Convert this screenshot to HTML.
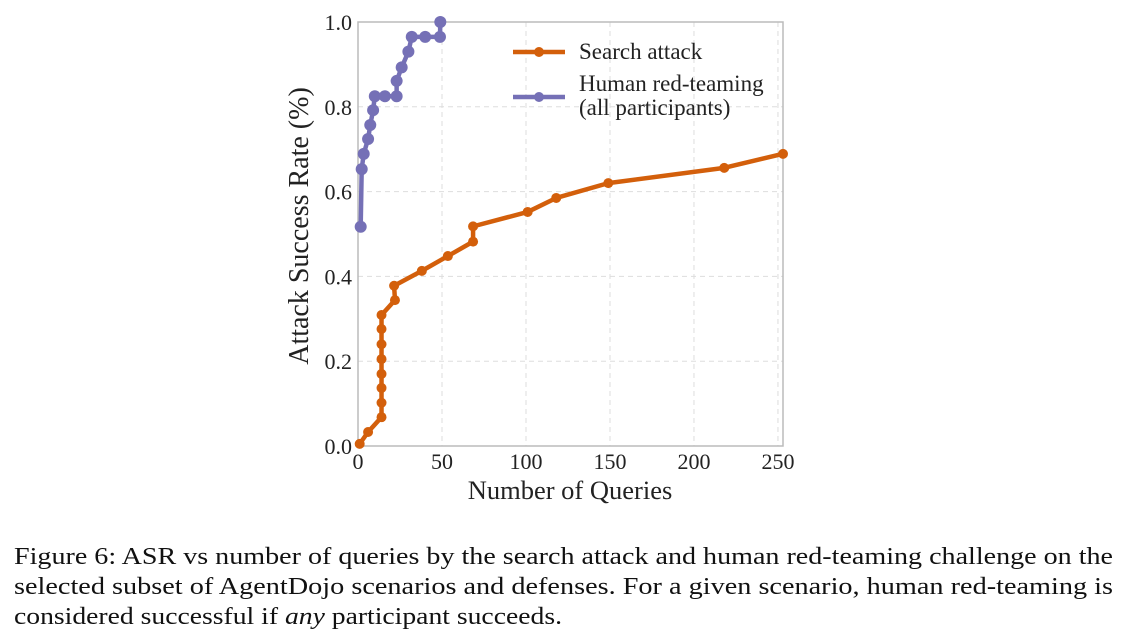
<!DOCTYPE html>
<html><head><meta charset="utf-8"><style>
body{margin:0;background:#fff;width:1129px;height:640px;overflow:hidden;font-family:"Liberation Serif",serif}
svg{position:absolute;left:0;top:0}
.cap{position:absolute;left:14px;top:542px;font-size:24px;line-height:30px;color:#111}
.cap span{display:block;white-space:nowrap;transform-origin:0 0;width:max-content}
</style></head><body>
<svg id="chart" width="1129" height="640" font-family="Liberation Serif, serif"></svg>
<div class="cap"><span data-w="1099">Figure 6: ASR vs number of queries by the search attack and human red-teaming challenge on the</span><span data-w="1099">selected subset of AgentDojo scenarios and defenses. For a given scenario, human red-teaming is</span><span data-w="548">considered successful if <i>any</i> participant succeeds.</span></div>
<script>
document.querySelectorAll('.cap span').forEach(s=>{const w=s.getBoundingClientRect().width;s.style.transform='scaleX('+(+s.dataset.w/w)+')';});
const searchX=[1,6,14,14,14,14,14,14,14,14,22,21.5,38,53.5,68.5,68.5,101,118,149,218,253];
const searchY=[0.005,0.033,0.068,0.102,0.137,0.17,0.205,0.24,0.276,0.309,0.344,0.378,0.413,0.448,0.482,0.518,0.552,0.585,0.62,0.656,0.689];
const humanX=[1.6,2.2,3.4,6,7.3,9,10,16,23,23,26,30,32,40,48.8,49];
const humanY=[0.517,0.653,0.689,0.724,0.757,0.792,0.825,0.825,0.825,0.861,0.893,0.93,0.965,0.965,0.965,1.0];
const xTicks=[0,50,100,150,200,250];
const yTicks=[0,0.2,0.4,0.6,0.8,1.0];
const L=358,R=783,T=22,B=446,XMAX=253;
const sx=v=>L+(R-L)*v/XMAX, sy=v=>B-(B-T)*v;
const svg=document.getElementById('chart');
const NS='http://www.w3.org/2000/svg';
function mk(t,a,p){const e=document.createElementNS(NS,t);for(const k in a)e.setAttribute(k,a[k]);(p||svg).appendChild(e);return e;}
xTicks.forEach(t=>{
 const g=mk('line',{x1:sx(t),x2:sx(t),y1:T,y2:B,stroke:'#ddd','stroke-dasharray':'5,4','stroke-width':1});
 
 
 const tx=mk('text',{x:sx(t),y:469,'font-size':22,'text-anchor':'middle',fill:'#222'});tx.textContent=t;
 
 
});
yTicks.forEach(t=>{
 const g=mk('line',{x1:L,x2:R,y1:sy(t),y2:sy(t),stroke:'#ddd','stroke-dasharray':'5,4','stroke-width':1});
 
 
 const tx=mk('text',{x:352,y:sy(t)+8,'font-size':22,'text-anchor':'end',fill:'#222'});tx.textContent=t.toFixed(1);
 
 
});
const fr=mk('rect',{x:L,y:T,width:R-L,height:B-T,fill:'none',stroke:'#bbb','stroke-width':1.5});


function series(xs,ys,c,name,r){
 const pts=xs.map((x,i)=>sx(x)+','+sy(ys[i])).join(' ');
 const pl=mk('polyline',{points:pts,fill:'none',stroke:c,'stroke-width':4.5,'stroke-linejoin':'round'});
 
 
 xs.forEach((x,i)=>{const m=mk('circle',{cx:sx(x),cy:sy(ys[i]),r:r,fill:c});
  
  });
}
series(searchX,searchY,'#d35f0b','search-attack',5);
series(humanX,humanY,'#7570b6','human-red-teaming',6);
const l1=mk('line',{x1:513,x2:565,y1:52,y2:52,stroke:'#d35f0b','stroke-width':4.5});


mk('circle',{cx:539,cy:52,r:5,fill:'#d35f0b'});
const t1=mk('text',{x:579,y:59,'font-size':23,fill:'#222'});t1.textContent='Search attack';


const l2=mk('line',{x1:513,x2:565,y1:97,y2:97,stroke:'#7570b6','stroke-width':4.5});


mk('circle',{cx:539,cy:97,r:5,fill:'#7570b6'});
const t2=mk('text',{x:579,y:91,'font-size':23,fill:'#222'});t2.textContent='Human red-teaming';


const t3=mk('text',{x:579,y:115,'font-size':23,fill:'#222'});t3.textContent='(all participants)';


const xl=mk('text',{x:570,y:499,'font-size':26.5,'text-anchor':'middle',fill:'#222'});xl.textContent='Number of Queries';


const yl=mk('text',{x:0,y:0,'font-size':28,'text-anchor':'middle',fill:'#222',transform:'translate(308,226) rotate(-90)'});yl.textContent='Attack Success Rate (%)';


</script>
</body></html>
